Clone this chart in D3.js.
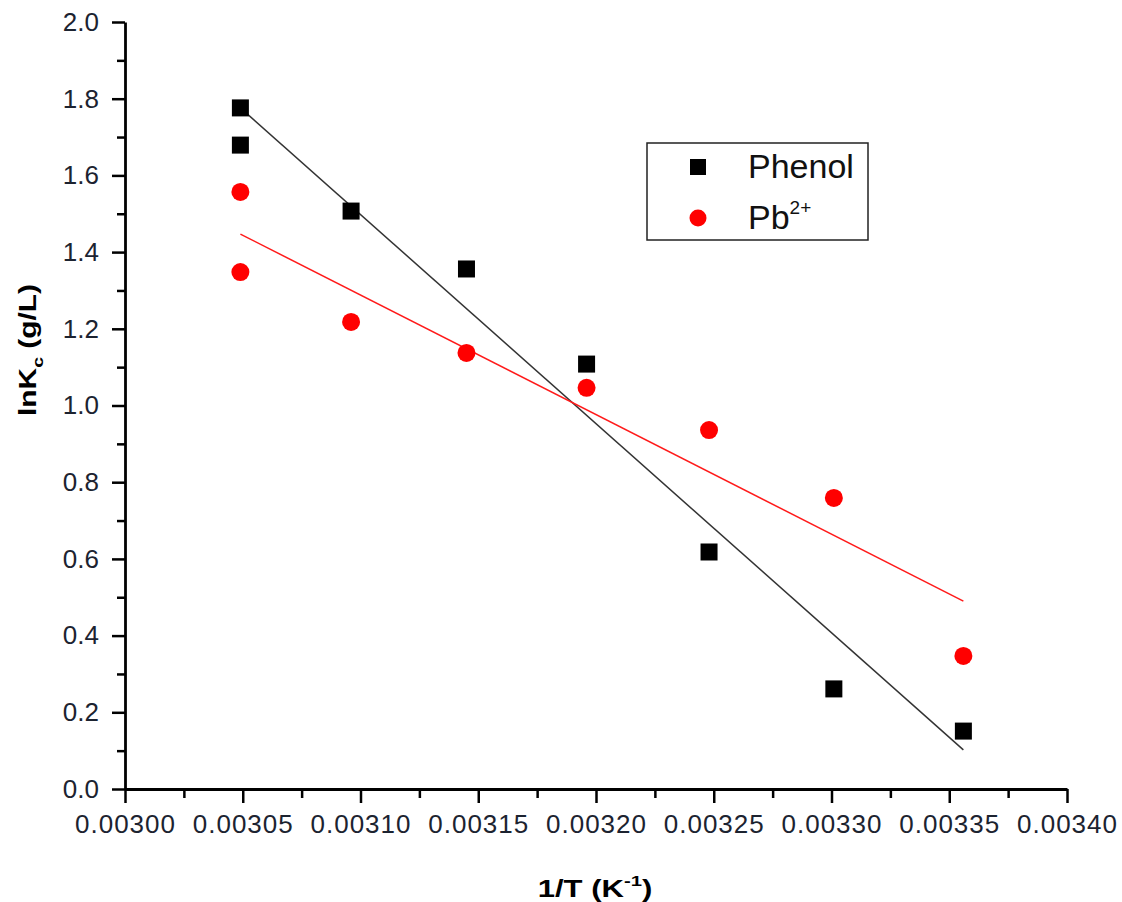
<!DOCTYPE html>
<html>
<head>
<meta charset="utf-8">
<script src="https://cdn.jsdelivr.net/npm/d3@7"></script>
<style>
  body { margin: 0; background: #fff; }
  #chart1 { width: 1122px; height: 902px; }
  text { font-family: "Liberation Sans", Arial, sans-serif; }
</style>
</head>
<body>
<div id="chart1"></div>
<script>

// data
var phenolX = [0.003049, 0.003049, 0.003096, 0.003145, 0.003196, 0.003248, 0.003301, 0.003356];
var phenolY = [1.776, 1.679, 1.507, 1.356, 1.108, 0.618, 0.261, 0.151];

var pbX = [0.003049, 0.003049, 0.003096, 0.003145, 0.003196, 0.003248, 0.003301, 0.003356];
var pbY = [1.557, 1.348, 1.218, 1.137, 1.046, 0.936, 0.759, 0.347];

// fitted lines (end points)
var phenolFitX = [0.003049, 0.003356];
var phenolFitY = [1.776, 0.102];
var pbFitX = [0.003049, 0.003356];
var pbFitY = [1.447, 0.490];

var xTicks = [0.00300, 0.00305, 0.00310, 0.00315, 0.00320, 0.00325, 0.00330, 0.00335, 0.00340];
var yTicks = [0.0, 0.2, 0.4, 0.6, 0.8, 1.0, 1.2, 1.4, 1.6, 1.8, 2.0];

var width = 1122;
var height = 902;

var svg = d3.select("#chart1")
    .append("svg")
    .attr("width", width)
    .attr("height", height);

var x = d3.scaleLinear()
    .domain([0.00300, 0.00340])
    .range([125, 1067]);

var y = d3.scaleLinear()
    .domain([0, 2.0])
    .range([789, 22]);

// minor ticks
var xMinor = d3.range(0, 8).map(function(i) { return 0.003025 + i * 0.00005; });
var yMinor = d3.range(0, 10).map(function(i) { return 0.1 + i * 0.2; });

svg.append("g")
    .attr("transform", "translate(0,789)")
    .call(d3.axisBottom(x).tickValues(xMinor).tickSize(9).tickFormat(""))
    .call(function(g) { g.select(".domain").remove(); })
    .selectAll("line").attr("stroke", "#000").attr("stroke-width", 2.5);

svg.append("g")
    .attr("transform", "translate(125,0)")
    .call(d3.axisLeft(y).tickValues(yMinor).tickSize(8).tickFormat(""))
    .call(function(g) { g.select(".domain").remove(); })
    .selectAll("line").attr("stroke", "#000").attr("stroke-width", 2.5);

var xAxis = svg.append("g")
    .attr("transform", "translate(0,789)")
    .call(d3.axisBottom(x).tickValues(xTicks).tickSize(14).tickSizeOuter(0).tickPadding(12)
        .tickFormat(d3.format(".5f")));

var yAxis = svg.append("g")
    .attr("transform", "translate(125,0)")
    .call(d3.axisLeft(y).tickValues(yTicks).tickSize(13).tickSizeOuter(0).tickPadding(13)
        .tickFormat(d3.format(".1f")));

[xAxis, yAxis].forEach(function(g) {
    g.select(".domain").attr("stroke", "#000").attr("stroke-width", 2.8);
    g.selectAll(".tick line").attr("stroke", "#000").attr("stroke-width", 2.5);
    g.selectAll(".tick text")
        .attr("font-size", 26)
        .attr("fill", "#1c2330");
});
xAxis.selectAll(".tick text").attr("letter-spacing", 1);

// fit lines
var line = d3.line()
    .x(function(d) { return x(d[0]); })
    .y(function(d) { return y(d[1]); });

svg.append("path")
    .datum(d3.zip(phenolFitX, phenolFitY))
    .attr("d", line)
    .attr("fill", "none")
    .attr("stroke", "#333")
    .attr("stroke-width", 1.5);

svg.append("path")
    .datum(d3.zip(pbFitX, pbFitY))
    .attr("d", line)
    .attr("fill", "none")
    .attr("stroke", "#ff1a1a")
    .attr("stroke-width", 1.5);

// points
svg.selectAll("rect.phenol")
    .data(d3.zip(phenolX, phenolY))
    .enter()
    .append("rect")
        .attr("class", "phenol")
        .attr("x", function(d) { return x(d[0]) - 8.5; })
        .attr("y", function(d) { return y(d[1]) - 8.5; })
        .attr("width", 17)
        .attr("height", 17)
        .attr("fill", "#000");

svg.selectAll("circle.pb")
    .data(d3.zip(pbX, pbY))
    .enter()
    .append("circle")
        .attr("class", "pb")
        .attr("cx", function(d) { return x(d[0]); })
        .attr("cy", function(d) { return y(d[1]); })
        .attr("r", 9)
        .attr("fill", "#ff0000");

// legend
var legend = svg.append("g");

legend.append("rect")
    .attr("x", 647)
    .attr("y", 143)
    .attr("width", 221)
    .attr("height", 97)
    .attr("fill", "#fff")
    .attr("stroke", "#222")
    .attr("stroke-width", 1.5);

legend.append("rect")
    .attr("x", 690)
    .attr("y", 159)
    .attr("width", 16)
    .attr("height", 16)
    .attr("fill", "#000");

legend.append("circle")
    .attr("cx", 698)
    .attr("cy", 218)
    .attr("r", 8.5)
    .attr("fill", "#ff0000");

legend.append("text")
    .attr("x", 748)
    .attr("y", 178)
    .attr("font-size", 34)
    .attr("fill", "#111")
    .text("Phenol");

var pbText = legend.append("text")
    .attr("x", 748)
    .attr("y", 229)
    .attr("font-size", 34)
    .attr("fill", "#111");
pbText.append("tspan").text("Pb");
pbText.append("tspan")
    .attr("font-size", 19)
    .attr("dy", -15)
    .text("2+");

// axis titles
var xTitle = svg.append("text")
    .attr("transform", "translate(595,897) scale(1.35,1)")
    .attr("text-anchor", "middle")
    .attr("font-size", 23)
    .attr("font-weight", "bold")
    .attr("fill", "#000");
xTitle.append("tspan").text("1/T (K");
xTitle.append("tspan").attr("font-size", 15).attr("dy", -11).text("-1");
xTitle.append("tspan").attr("dy", 11).text(")");

var yTitle = svg.append("text")
    .attr("transform", "translate(36,350) rotate(-90) scale(1.3,1)")
    .attr("text-anchor", "middle")
    .attr("font-size", 23)
    .attr("font-weight", "bold")
    .attr("fill", "#000");
yTitle.append("tspan").text("lnK");
yTitle.append("tspan").attr("font-size", 15).attr("dy", 7).text("c");
yTitle.append("tspan").attr("dy", -7).text(" (g/L)");

</script>
</body>
</html>
